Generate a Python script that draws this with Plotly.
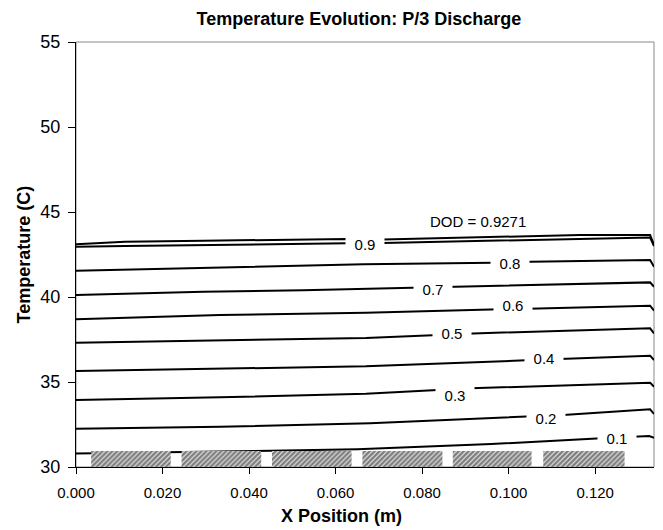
import plotly.graph_objects as go

# ---------------- data ----------------
chart_title = "Temperature Evolution: P/3 Discharge"
x_title = "X Position (m)"
y_title = "Temperature (C)"

x_tick_vals = [0.0, 0.02, 0.04, 0.06, 0.08, 0.10, 0.12]
y_tick_vals = [30, 35, 40, 45, 50, 55]

# constant-DOD curves: x position (m) and temperature (C)
x_d01 = [0.0, 0.022, 0.045, 0.065, 0.096, 0.1225, 0.1325, 0.1336]
t_d01 = [30.80, 30.86, 30.95, 31.05, 31.35, 31.70, 31.82, 31.72]

x_d02 = [0.0, 0.0333, 0.068, 0.1053, 0.1126, 0.1327, 0.1336]
t_d02 = [32.25, 32.37, 32.57, 32.96, 33.06, 33.39, 33.12]

x_d03 = [0.0, 0.0333, 0.067, 0.0845, 0.0913, 0.1327, 0.1336]
t_d03 = [33.94, 34.10, 34.31, 34.57, 34.63, 34.96, 34.72]

x_d04 = [0.0, 0.0333, 0.067, 0.1053, 0.1118, 0.1327, 0.1336]
t_d04 = [35.65, 35.80, 35.92, 36.29, 36.35, 36.55, 36.29]

x_d05 = [0.0, 0.0333, 0.067, 0.0838, 0.0918, 0.1327, 0.1336]
t_d05 = [37.31, 37.47, 37.59, 37.76, 37.86, 38.16, 37.86]

x_d06 = [0.0, 0.0333, 0.067, 0.0972, 0.1057, 0.1327, 0.1336]
t_d06 = [38.69, 38.94, 39.08, 39.28, 39.30, 39.49, 39.20]

x_d07 = [0.0, 0.0294, 0.0525, 0.0786, 0.0867, 0.1327, 0.1336]
t_d07 = [40.12, 40.31, 40.40, 40.55, 40.60, 40.86, 40.60]

x_d08 = [0.0, 0.0294, 0.0525, 0.0665, 0.0964, 0.105, 0.1327, 0.1336]
t_d08 = [41.55, 41.73, 41.85, 41.92, 42.02, 42.08, 42.18, 41.78]

x_d09 = [0.0, 0.0113, 0.0626, 0.071, 0.1327, 0.1336]
t_d09 = [42.95, 43.00, 43.16, 43.18, 43.50, 43.00]

x_dfinal = [0.0, 0.0113, 0.0294, 0.0626, 0.071, 0.1165, 0.1327, 0.1336]
t_dfinal = [43.10, 43.25, 43.31, 43.41, 43.38, 43.65, 43.65, 43.06]

# contour labels
label_text = ["0.1", "0.2", "0.3", "0.4", "0.5", "0.6", "0.7", "0.8", "0.9"]
label_x = [0.1251, 0.1086, 0.0877, 0.1082, 0.0869, 0.1011, 0.0826, 0.1004, 0.0668]
label_y = [31.69, 32.90, 34.24, 36.39, 37.86, 39.53, 40.50, 42.02, 43.10]

final_label = "DOD = 0.9271"
final_label_x = 0.0930
final_label_y = 44.43

# cell positions (hatched blocks on the bottom)
cell_start = [0.0035, 0.0244, 0.0453, 0.0662, 0.0871, 0.1080]
cell_end = [0.0219, 0.0428, 0.0637, 0.0847, 0.1053, 0.1268]
cell_base = 30.0
cell_top = 30.94

x_max = 0.1336
y_min, y_max = 30, 55

# ---------------- figure ----------------
FONT = "Arial, Liberation Sans, Helvetica, sans-serif"
fig = go.Figure()

curves = [(x_d01, t_d01), (x_d02, t_d02), (x_d03, t_d03), (x_d04, t_d04),
          (x_d05, t_d05), (x_d06, t_d06), (x_d07, t_d07), (x_d08, t_d08),
          (x_d09, t_d09), (x_dfinal, t_dfinal)]
for xs, ts in curves:
    fig.add_trace(go.Scatter(x=xs, y=ts, mode="lines",
                             line=dict(color="black", width=2),
                             showlegend=False, hoverinfo="skip"))

# hatched cells (drawn after the curves so they cover them)
cx, cy = [], []
for s, e in zip(cell_start, cell_end):
    cx += [s, e, e, s, s, None]
    cy += [cell_base, cell_base, cell_top, cell_top, cell_base, None]
fig.add_trace(go.Scatter(x=cx, y=cy, mode="none", fill="toself",
                         fillcolor="white",
                         fillpattern=dict(shape="/", fgcolor="black", bgcolor="white",
                                          size=3.5, solidity=0.75),
                         showlegend=False, hoverinfo="skip"))

annotations = []
for t, x, y in zip(label_text, label_x, label_y):
    annotations.append(dict(x=x, y=y, xref="x", yref="y", text=t, showarrow=False,
                            font=dict(family=FONT, size=15, color="black"),
                            bgcolor="white", width=36, height=18,
                            xanchor="center", yanchor="middle"))
annotations.append(dict(x=final_label_x, y=final_label_y, xref="x", yref="y",
                        text=final_label, showarrow=False,
                        font=dict(family=FONT, size=15, color="black"),
                        xanchor="center", yanchor="middle"))
# axis titles
annotations.append(dict(x=0.460, y=-0.1153, xref="paper", yref="paper", text="<b>" + x_title + "</b>",
                        showarrow=False, font=dict(family=FONT, size=18, color="black"),
                        xanchor="center", yanchor="middle"))
annotations.append(dict(x=-0.09, y=0.5, xref="paper", yref="paper", text="<b>" + y_title + "</b>",
                        showarrow=False, textangle=-90, font=dict(family=FONT, size=18, color="black"),
                        xanchor="center", yanchor="middle"))

fig.update_layout(
    width=655, height=522, autosize=False,
    margin=dict(l=68, r=9, t=34, b=63),
    paper_bgcolor="white", plot_bgcolor="white",
    title=dict(text="<b>" + chart_title + "</b>", x=0.4896, xref="paper",
               y=1 - 10.5 / 522, yref="container", xanchor="center", yanchor="middle",
               font=dict(family=FONT, size=18, color="black")),
    annotations=annotations,
    showlegend=False,
    shapes=[dict(type="rect", xref="paper", yref="paper", x0=0, x1=1, y0=0, y1=1,
                 line=dict(color="#8a8a8a", width=1), layer="below")],
)
fig.update_xaxes(range=[0, x_max], tickvals=x_tick_vals, tickformat=".3f",
                 showgrid=False, zeroline=False, showline=True, linecolor="black", linewidth=1,
                 ticks="outside", ticklen=6, tickcolor="black", ticklabelstandoff=6,
                 tickfont=dict(family=FONT, size=15, color="black"))
fig.update_yaxes(range=[y_min, y_max], tickvals=y_tick_vals,
                 showgrid=False, zeroline=False, showline=True, linecolor="black", linewidth=1,
                 ticks="outside", ticklen=7, tickcolor="black", ticklabelstandoff=4,
                 tickfont=dict(family=FONT, size=18, color="black"))

fig.write_html("out.html")
